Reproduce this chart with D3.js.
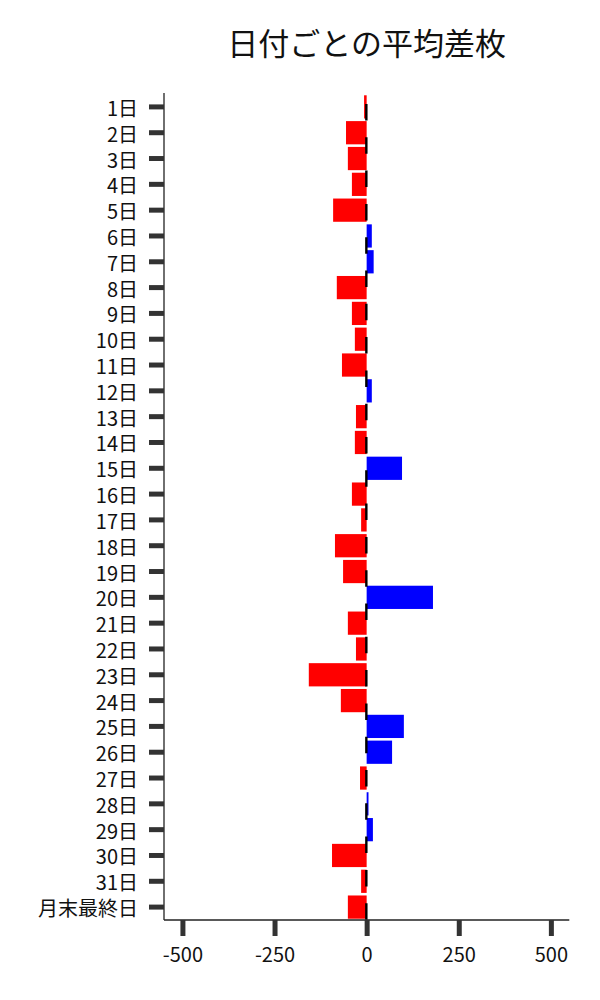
<!DOCTYPE html>
<html><head><meta charset="utf-8">
<script src="https://cdn.jsdelivr.net/npm/d3@7"></script>
<style>
html,body{margin:0;padding:0;background:#fff;}
svg{display:block;font-family:"Noto Sans CJK JP","Noto Sans",sans-serif;}
</style></head>
<body>
<svg id="c" width="600" height="1000"></svg>
<script>
const categories = ["1日","2日","3日","4日","5日","6日","7日","8日","9日","10日","11日","12日","13日","14日","15日","16日","17日","18日","19日","20日","21日","22日","23日","24日","25日","26日","27日","28日","29日","30日","31日","月末最終日"];
const values = [-7,-56,-51,-40,-91,14,19,-81,-40,-32,-67,14,-29,-32,96,-40,-15,-86,-64,180,-51,-29,-157,-70,101,69,-18,5,17,-94,-15,-51];
const xTicks = [-500,-250,0,250,500];
const xDomain = [-550,550];
const chartTitle = "日付ごとの平均差枚";

(function(){
const svg = d3.select("#c");
const pL = 164, pR = 569.3, pT = 93, pB = 920;

const x = d3.scaleLinear().domain(xDomain).range([pL, pR]);
const y = d3.scaleBand().domain(categories).range([94, pB]).paddingInner(0.1).paddingOuter(0.05);

// bars
svg.append("g").selectAll("rect").data(values).join("rect")
  .attr("x", d => x(Math.min(0, d)))
  .attr("width", d => Math.abs(x(d) - x(0)))
  .attr("y", (d, i) => y(categories[i]))
  .attr("height", y.bandwidth())
  .attr("fill", d => d < 0 ? "#ff0000" : "#0000ff");

// dashed zero line
svg.append("line")
  .attr("x1", x(0) - 0.3).attr("x2", x(0) - 0.3)
  .attr("y1", pT).attr("y2", pB)
  .attr("stroke", "#000").attr("stroke-width", 2.4)
  .attr("stroke-dasharray", "16.5,16.8")
  .attr("stroke-dashoffset", 22.3);

// spines
svg.append("line").attr("x1", pL).attr("x2", pL).attr("y1", pT).attr("y2", pB)
  .attr("stroke", "#222").attr("stroke-width", 1.3);
svg.append("line").attr("x1", pL).attr("x2", pR).attr("y1", pB).attr("y2", pB)
  .attr("stroke", "#222").attr("stroke-width", 1.3);

// y axis
const ya = d3.axisLeft(y).tickSize(15).tickPadding(11);
const gy = svg.append("g").attr("transform", `translate(${pL},0)`).call(ya);
gy.select(".domain").remove();
gy.selectAll(".tick line").attr("stroke", "#333").attr("stroke-width", 5);
gy.selectAll(".tick text").attr("font-size", 20).attr("fill", "#111")
  .attr("font-family", '"Noto Sans CJK JP","Noto Sans",sans-serif')
  .attr("dy", "0.45em");

// x axis
const xa = d3.axisBottom(x).tickValues(xTicks).tickSize(16).tickPadding(12).tickFormat(d3.format("d"));
const gx = svg.append("g").attr("transform", `translate(0,${pB})`).call(xa);
gx.select(".domain").remove();
gx.selectAll(".tick line").attr("stroke", "#333").attr("stroke-width", 5);
gx.selectAll(".tick text").attr("font-size", 20).attr("fill", "#111")
  .attr("font-family", '"Noto Sans CJK JP","Noto Sans",sans-serif')
  .text(d => d < 0 ? "-" + Math.abs(d) : d);

// title
svg.append("text").attr("x", (pL + pR) / 2).attr("y", 55)
  .attr("text-anchor", "middle").attr("font-size", 31).attr("fill", "#111")
  .text(chartTitle);
})();
</script>
</body></html>
